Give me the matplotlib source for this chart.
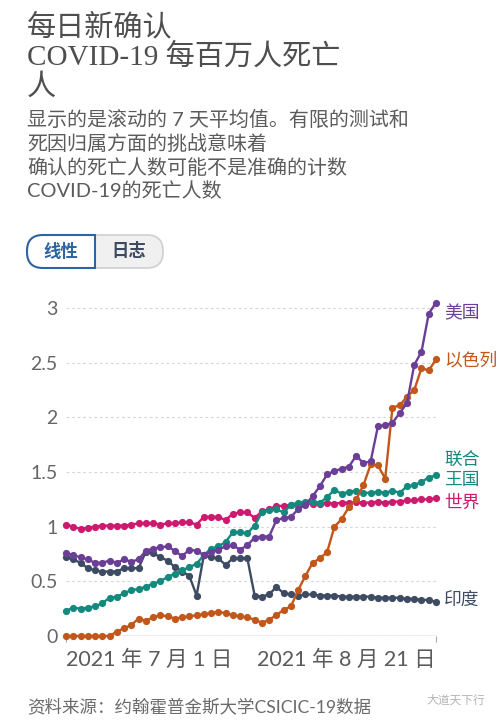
import matplotlib
matplotlib.use('Agg')
import matplotlib.pyplot as plt
from matplotlib.patches import FancyBboxPatch, Rectangle
import pandas as pd

# ---------------- data ----------------
dates = pd.date_range('2021-07-01', '2021-08-21', freq='D')

us = [0.76, 0.74, 0.72, 0.70, 0.67, 0.67, 0.69, 0.67, 0.70, 0.68, 0.70,
      0.78, 0.80, 0.81, 0.82, 0.78, 0.73, 0.79, 0.78, 0.74,
      0.77, 0.79, 0.82, 0.83, 0.79, 0.83, 0.90, 0.91, 0.91, 1.06,
      1.08, 1.09, 1.16, 1.20, 1.28, 1.37, 1.48, 1.51, 1.53, 1.55,
      1.65, 1.58, 1.60, 1.92, 1.93, 1.95, 2.04, 2.13, 2.48, 2.60,
      2.95, 3.05]
israel = [0.00, 0.00, 0.00, 0.00, 0.00, 0.00, 0.00, 0.04, 0.07, 0.10,
          0.16, 0.14, 0.17, 0.19, 0.18, 0.16, 0.17, 0.18, 0.19, 0.20,
          0.21, 0.22, 0.21, 0.19, 0.18, 0.17, 0.15, 0.12, 0.15, 0.19,
          0.24, 0.27, 0.42, 0.55, 0.67, 0.71, 0.77, 1.00, 1.07, 1.18,
          1.25, 1.38, 1.57, 1.56, 1.44, 2.09, 2.11, 2.19, 2.25, 2.45,
          2.43, 2.53]
uk = [0.23, 0.26, 0.25, 0.26, 0.27, 0.30, 0.35, 0.36, 0.39, 0.42,
      0.43, 0.45, 0.48, 0.50, 0.54, 0.57, 0.60, 0.63, 0.66, 0.74,
      0.80, 0.82, 0.86, 0.95, 0.95, 0.94, 1.01, 1.13, 1.15, 1.16,
      1.13, 1.20, 1.22, 1.23, 1.23, 1.22, 1.27, 1.34, 1.30, 1.32,
      1.33, 1.31, 1.31, 1.32, 1.31, 1.33, 1.31, 1.37, 1.38, 1.41,
      1.45, 1.47]
world = [1.02, 1.00, 0.98, 0.99, 1.00, 1.01, 1.01, 1.01, 1.01, 1.02,
         1.03, 1.03, 1.03, 1.02, 1.03, 1.03, 1.04, 1.04, 1.02, 1.09,
         1.09, 1.09, 1.06, 1.12, 1.13, 1.13, 1.08, 1.14, 1.16, 1.19,
         1.19, 1.20, 1.20, 1.21, 1.21, 1.21, 1.22, 1.21, 1.22, 1.22,
         1.23, 1.22, 1.22, 1.23, 1.22, 1.23, 1.23, 1.24, 1.24, 1.25,
         1.25, 1.26]
india = [0.72, 0.70, 0.67, 0.62, 0.60, 0.59, 0.59, 0.59, 0.62, 0.62,
         0.62, 0.77, 0.76, 0.72, 0.69, 0.63, 0.59, 0.55, 0.37, 0.74,
         0.72, 0.71, 0.65, 0.71, 0.71, 0.71, 0.37, 0.36, 0.38, 0.45,
         0.39, 0.38, 0.37, 0.38, 0.38, 0.37, 0.37, 0.37, 0.36, 0.36,
         0.36, 0.36, 0.36, 0.35, 0.35, 0.35, 0.35, 0.34, 0.34, 0.33,
         0.33, 0.31]

series_values = [india, world, uk, israel, us]
series_names = ['印度', '世界', '联合\n王国', '以色列', '美国']
series_colors = ['#3d4b63', '#cc1a6f', '#14897d', '#c1571a', '#6b3e97']
label_y_px = [601, 503, 470, 360, 313]

y_ticks = [0, 0.5, 1, 1.5, 2, 2.5, 3]
y_tick_labels = ['0', '0.5', '1', '1.5', '2', '2.5', '3']
x_tick_labels = ['2021 年 7 月 1 日', '2021 年 8 月 21 日']

title_lines = ['每日新确认', 'COVID-19 每百万人死亡', '人']
subtitle_lines = ['显示的是滚动的 7 天平均值。有限的测试和',
                  '死因归属方面的挑战意味着',
                  '确认的死亡人数可能不是准确的计数',
                  'COVID-19的死亡人数']
source_text = '资料来源：约翰霍普金斯大学CSICIC-19数据'

# ---------------- layout ----------------
W, H = 500, 724
CJK = ['Lato', 'Noto Sans CJK SC', 'DejaVu Sans']
SERIF = ['Liberation Serif', 'Noto Sans CJK SC', 'DejaVu Sans']
plt.rcParams['font.family'] = CJK

fig = plt.figure(figsize=(W / 100, H / 100), dpi=100)
fig.patch.set_facecolor('white')

x0, x1 = 66, 436
y0 = 636
ytop_val = 3.05
ppu = 109.3
ytop = y0 - ytop_val * ppu
ax = fig.add_axes([x0 / W, 1 - y0 / H, (x1 - x0) / W, (y0 - ytop) / H])
ax.set_facecolor('none')

for vals, col in zip(series_values, series_colors):
    ax.plot(dates, vals, color=col, lw=1.7, marker='o', ms=5.2,
            markeredgewidth=0, clip_on=False, zorder=3)

ax.set_xlim(dates[0], dates[-1])
ax.set_ylim(0, ytop_val)
ax.set_yticks(y_ticks, y_tick_labels)
ax.set_xticks([dates[0], dates[-1]], x_tick_labels)
ax.grid(axis='y', linestyle=(0, (2.5, 2.5)), color='#d6d6d6', lw=0.8, zorder=0)
ax.axhline(0, color='#a8a8a8', lw=1.0, zorder=1)
for s in ax.spines.values():
    s.set_visible(False)
ax.tick_params(axis='y', length=0, pad=6, labelsize=14, labelcolor='#666666')
ax.tick_params(axis='x', length=4, width=0.8, color='#a8a8a8', pad=6,
               labelsize=15.5, labelcolor='#5b5b5b')
xl = ax.get_xticklabels()
xl[0].set_ha('left')
xl[1].set_ha('right')

# ---------------- overlay for text & decorations ----------------
ov = fig.add_axes([0, 0, 1, 1])
ov.set_xlim(0, W)
ov.set_ylim(H, 0)
ov.axis('off')

tcol = '#4e4e4e'
ov.text(27, 28, title_lines[0], fontsize=21, color=tcol, va='center', family=SERIF)
ov.text(27, 57, title_lines[1], fontsize=21, color=tcol, va='center', family=SERIF)
ov.text(27, 87, title_lines[2], fontsize=21, color=tcol, va='center', family=SERIF)

scol = '#5b5b5b'
for yy, line in zip([119, 143, 168, 191], subtitle_lines):
    ov.text(27, yy, line, fontsize=14.4, color=scol, va='center', family=CJK)

# buttons
full = FancyBboxPatch((27, 235), 136, 33, boxstyle='round,pad=0,rounding_size=16',
                      fc='#f0f0f0', ec='#cfcfcf', lw=1.2)
ov.add_patch(full)
left = FancyBboxPatch((27, 235), 100, 33, boxstyle='round,pad=0,rounding_size=16',
                      fc='white', ec='#2f64a3', lw=1.5)
ov.add_patch(left)
clip = Rectangle((20, 228), 75, 48, transform=ov.transData)
left.set_clip_path(clip)
ov.plot([95, 95], [235, 268], color='#2f64a3', lw=1.5)
ov.text(61, 251, '线性', fontsize=12.5, color='#2f64a3', va='center', ha='center',
        fontweight='bold', family=CJK)
ov.text(129, 251, '日志', fontsize=12.5, color='#3c4a5e', va='center', ha='center',
        fontweight='bold', family=CJK)

# series labels
for name, col, yy in zip(series_names, series_colors, label_y_px):
    ov.text(444, yy, name, fontsize=12.8, color=col, va='center', ha='left',
            family=CJK, linespacing=1.25)

# footer
ov.text(27, 707, source_text, fontsize=12.6, color='#6b6b6b', va='center', family=CJK)
ov.text(485, 700, '大道天下行', fontsize=8.5, color='#b5b5b5', va='center', ha='right',
        family=CJK)

fig.savefig('out.png', dpi=100, facecolor='white')
